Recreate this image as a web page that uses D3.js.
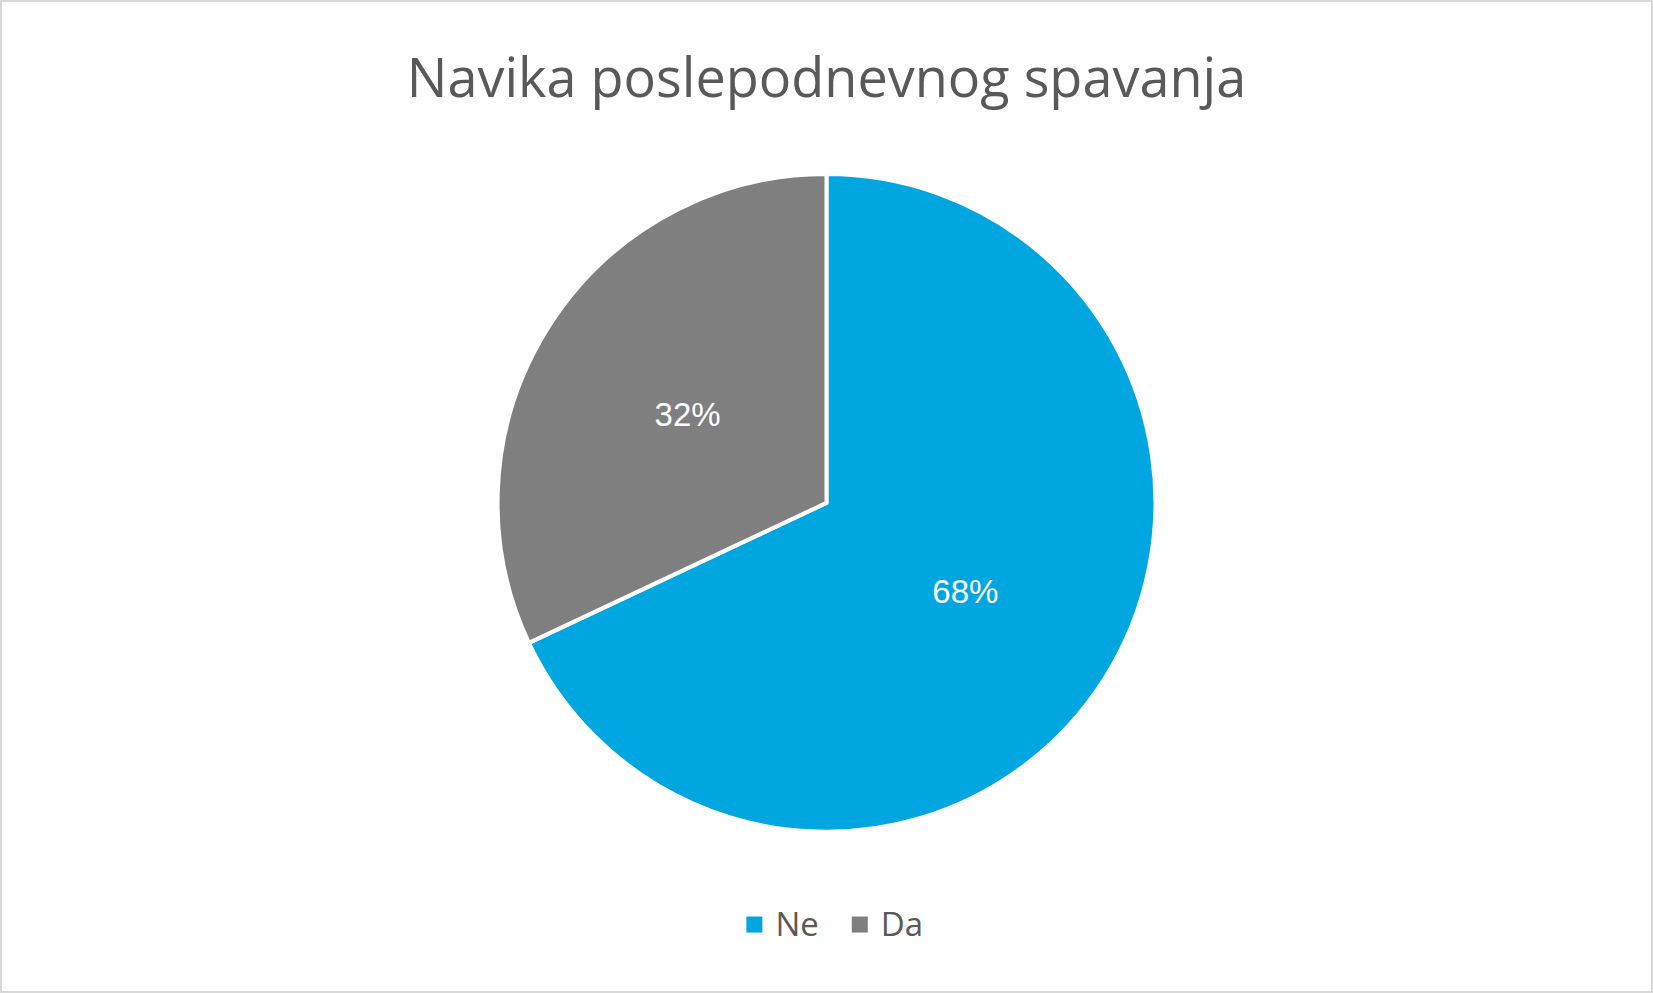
<!DOCTYPE html>
<html>
<head>
<meta charset="utf-8">
<script src="https://cdn.jsdelivr.net/npm/d3@7"></script>
<style>
  body { margin: 0; background: #fff; }
  svg { display: block; font-family: "Open Sans", "Noto Sans", sans-serif; }
</style>
</head>
<body>
<svg id="chart"></svg>
<script>
// chart data
var categories = ["Ne", "Da"];
var values = [68, 32];
var colors = ["#00A6E0", "#7F7F7F"];
var title = "Navika poslepodnevnog spavanja";

var W = 1653, H = 993;
var s = W / 1568;
var cx = 784 * s, cy = 477 * s, r = 312 * s;

var svg = d3.select("#chart").attr("width", W).attr("height", H);

// frame
svg.append("rect")
  .attr("x", 1).attr("y", 1)
  .attr("width", W - 2).attr("height", H - 2)
  .attr("fill", "#fff").attr("stroke", "#d9d9d9").attr("stroke-width", 2);

svg.append("text")
  .attr("x", W / 2).attr("y", 92 * s)
  .attr("text-anchor", "middle")
  .attr("font-size", 54)
  .attr("fill", "#595959")
  .text(title);

var pie = d3.pie().sort(null).value(function(d) { return d; });
var arc = d3.arc().innerRadius(0).outerRadius(r);
var total = d3.sum(values);

var g = svg.append("g").attr("transform", "translate(" + cx + "," + cy + ")");

g.selectAll("path")
  .data(pie(values))
  .enter()
  .append("path")
  .attr("d", arc)
  .attr("fill", function(d, i) { return colors[i]; })
  .attr("stroke", "#fff")
  .attr("stroke-width", 4)
  .attr("stroke-linejoin", "round");

// percentage labels
g.selectAll("text.lbl")
  .data(pie(values))
  .enter()
  .append("text")
  .attr("class", "lbl")
  .attr("transform", function(d) { return "translate(" + arc.centroid(d) + ")"; })
  .attr("text-anchor", "middle")
  .attr("dy", "0.35em")
  .attr("font-family", "'Liberation Sans', Arial, sans-serif")
  .attr("font-size", 33)
  .attr("fill", "#fff")
  .text(function(d) { return Math.round(d.value / total * 100) + "%"; });

// legend
var leg = svg.append("g").attr("transform", "translate(0," + (877 * s) + ")");
var legX = [708 * s, 808 * s];
categories.forEach(function(c, i) {
  leg.append("rect")
    .attr("x", legX[i]).attr("y", -8)
    .attr("width", 16).attr("height", 16)
    .attr("fill", colors[i]);
  leg.append("text")
    .attr("x", legX[i] + 29).attr("y", 0)
    .attr("dy", "0.35em")
    .attr("font-size", 33)
    .attr("fill", "#595959")
    .text(c);
});
</script>
</body>
</html>
